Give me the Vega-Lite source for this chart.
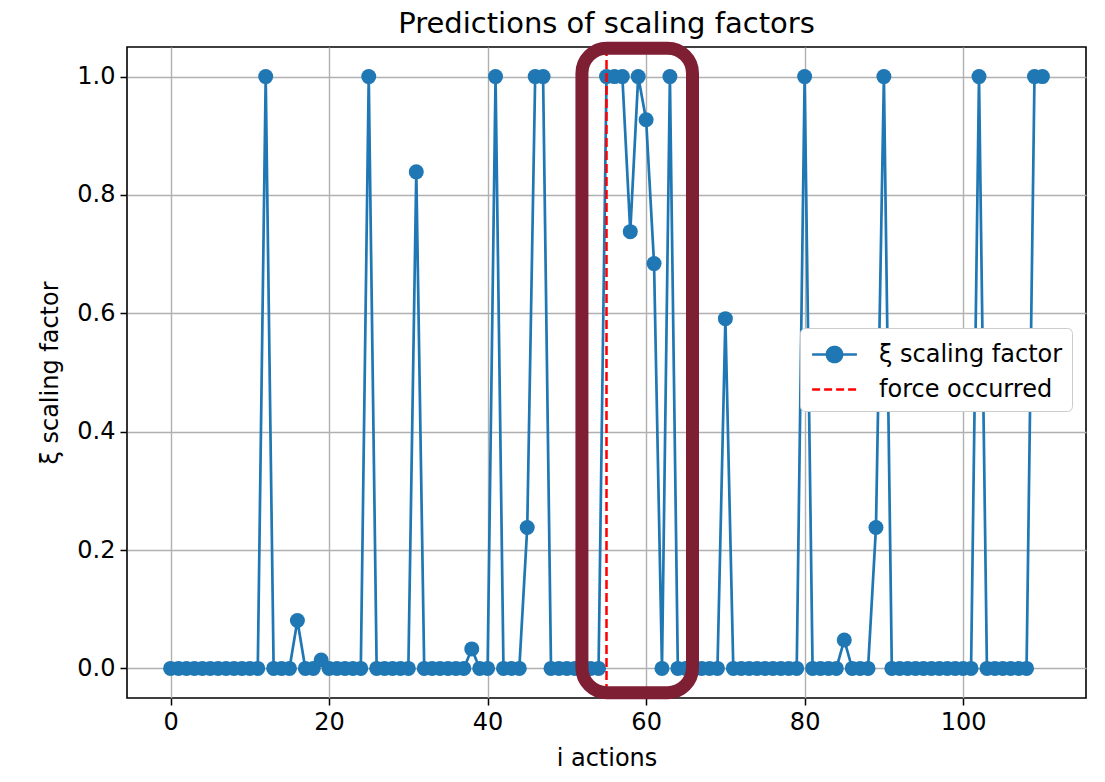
{
  "$schema": "https://vega.github.io/schema/vega-lite/v6.json",
  "width": 959,
  "height": 651,
  "autosize": "none",
  "padding": {"left": 127, "top": 47, "right": 19, "bottom": 84},
  "background": "white",
  "config": {
    "font": "DejaVu Sans",
    "view": {"stroke": "black", "strokeWidth": 1.6},
    "axis": {
      "domain": false,
      "grid": true,
      "gridColor": "#b0b0b0",
      "gridWidth": 1.4,
      "tickColor": "black",
      "tickSize": 7,
      "tickWidth": 1.5,
      "labelFont": "DejaVu Sans",
      "labelFontSize": 24,
      "labelColor": "black",
      "labelPadding": 5,
      "titleFont": "DejaVu Sans",
      "titleFontSize": 24,
      "titleFontWeight": "normal",
      "titleColor": "black"
    }
  },
  "title": {
    "text": "Predictions of scaling factors",
    "fontSize": 29,
    "font": "DejaVu Sans",
    "fontWeight": "normal",
    "color": "black",
    "offset": 3
  },
  "datasets": {
    "xi": [
      {"i": 0, "xi": 0}, {"i": 1, "xi": 0}, {"i": 2, "xi": 0}, {"i": 3, "xi": 0}, {"i": 4, "xi": 0},
      {"i": 5, "xi": 0}, {"i": 6, "xi": 0}, {"i": 7, "xi": 0}, {"i": 8, "xi": 0}, {"i": 9, "xi": 0},
      {"i": 10, "xi": 0}, {"i": 11, "xi": 0}, {"i": 12, "xi": 1.0}, {"i": 13, "xi": 0}, {"i": 14, "xi": 0},
      {"i": 15, "xi": 0}, {"i": 16, "xi": 0.081}, {"i": 17, "xi": 0}, {"i": 18, "xi": 0}, {"i": 19, "xi": 0.014},
      {"i": 20, "xi": 0}, {"i": 21, "xi": 0}, {"i": 22, "xi": 0}, {"i": 23, "xi": 0}, {"i": 24, "xi": 0},
      {"i": 25, "xi": 1.0}, {"i": 26, "xi": 0}, {"i": 27, "xi": 0}, {"i": 28, "xi": 0}, {"i": 29, "xi": 0},
      {"i": 30, "xi": 0}, {"i": 31, "xi": 0.839}, {"i": 32, "xi": 0}, {"i": 33, "xi": 0}, {"i": 34, "xi": 0},
      {"i": 35, "xi": 0}, {"i": 36, "xi": 0}, {"i": 37, "xi": 0}, {"i": 38, "xi": 0.033}, {"i": 39, "xi": 0},
      {"i": 40, "xi": 0}, {"i": 41, "xi": 1.0}, {"i": 42, "xi": 0}, {"i": 43, "xi": 0}, {"i": 44, "xi": 0},
      {"i": 45, "xi": 0.238}, {"i": 46, "xi": 1.0}, {"i": 47, "xi": 1.0}, {"i": 48, "xi": 0}, {"i": 49, "xi": 0},
      {"i": 50, "xi": 0}, {"i": 51, "xi": 0}, {"i": 52, "xi": 0}, {"i": 53, "xi": 0}, {"i": 54, "xi": 0},
      {"i": 55, "xi": 1.0}, {"i": 56, "xi": 1.0}, {"i": 57, "xi": 1.0}, {"i": 58, "xi": 0.738}, {"i": 59, "xi": 1.0},
      {"i": 60, "xi": 0.927}, {"i": 61, "xi": 0.684}, {"i": 62, "xi": 0}, {"i": 63, "xi": 1.0}, {"i": 64, "xi": 0},
      {"i": 65, "xi": 0}, {"i": 66, "xi": 0}, {"i": 67, "xi": 0}, {"i": 68, "xi": 0}, {"i": 69, "xi": 0},
      {"i": 70, "xi": 0.591}, {"i": 71, "xi": 0}, {"i": 72, "xi": 0}, {"i": 73, "xi": 0}, {"i": 74, "xi": 0},
      {"i": 75, "xi": 0}, {"i": 76, "xi": 0}, {"i": 77, "xi": 0}, {"i": 78, "xi": 0}, {"i": 79, "xi": 0},
      {"i": 80, "xi": 1.0}, {"i": 81, "xi": 0}, {"i": 82, "xi": 0}, {"i": 83, "xi": 0}, {"i": 84, "xi": 0},
      {"i": 85, "xi": 0.048}, {"i": 86, "xi": 0}, {"i": 87, "xi": 0}, {"i": 88, "xi": 0}, {"i": 89, "xi": 0.238},
      {"i": 90, "xi": 1.0}, {"i": 91, "xi": 0}, {"i": 92, "xi": 0}, {"i": 93, "xi": 0}, {"i": 94, "xi": 0},
      {"i": 95, "xi": 0}, {"i": 96, "xi": 0}, {"i": 97, "xi": 0}, {"i": 98, "xi": 0}, {"i": 99, "xi": 0},
      {"i": 100, "xi": 0}, {"i": 101, "xi": 0}, {"i": 102, "xi": 1.0}, {"i": 103, "xi": 0}, {"i": 104, "xi": 0},
      {"i": 105, "xi": 0}, {"i": 106, "xi": 0}, {"i": 107, "xi": 0}, {"i": 108, "xi": 0}, {"i": 109, "xi": 1.0},
      {"i": 110, "xi": 1.0}
    ],
    "force": [{"i": 55}],
    "box": [{"x0": 51.9, "x1": 65.85, "y0": -0.041, "y1": 1.048}]
  },
  "layer": [
    {
      "data": {"name": "xi"},
      "mark": {"type": "line", "strokeWidth": 2.7, "point": {"filled": true, "size": 225, "opacity": 1}},
      "encoding": {
        "x": {
          "field": "i", "type": "quantitative", "title": "i actions",
          "scale": {"domain": [-5.5, 115.5], "nice": false, "zero": false},
          "axis": {"values": [0, 20, 40, 60, 80, 100], "titlePadding": 12}
        },
        "y": {
          "field": "xi", "type": "quantitative", "title": "ξ scaling factor",
          "scale": {"domain": [-0.05, 1.05], "nice": false, "zero": false},
          "axis": {"values": [0, 0.2, 0.4, 0.6, 0.8, 1.0], "format": ".1f", "titlePadding": 14}
        },
        "color": {
          "datum": "ξ scaling factor", "type": "nominal",
          "scale": {"domain": ["ξ scaling factor", "force occurred"], "range": ["#1f77b4", "#ff0000"]},
          "legend": {
            "title": null,
            "orient": "none",
            "legendX": 673,
            "legendY": 281,
            "labelFontSize": 24,
            "labelFont": "DejaVu Sans",
            "labelColor": "black",
            "labelLimit": 0,
            "symbolType": "M-1.4,0L1.4,0",
            "symbolSize": 1024,
            "symbolStrokeWidth": 2.7,
            "symbolOffset": 8,
            "rowPadding": 4,
            "padding": 9,
            "labelOffset": 27,
            "strokeColor": "#cccccc",
            "fillColor": "white",
            "cornerRadius": 5,
            "encode": {
              "symbols": {
                "update": {
                  "shape": {"signal": "datum.value == 'force occurred' ? 'M-1.4,0L1.4,0' : 'M-1.4,0L1.4,0M-0.47,0A0.47,0.47,0,1,0,0.47,0A0.47,0.47,0,1,0,-0.47,0Z'"},
                  "fill": {"signal": "datum.value == 'force occurred' ? 'transparent' : '#1f77b4'"},
                  "strokeDash": {"signal": "datum.value == 'force occurred' ? [8, 4] : [1, 0]"}
                }
              }
            }
          }
        }
      }
    },
    {
      "data": {"name": "force"},
      "mark": {"type": "rule", "strokeDash": [9, 4], "strokeWidth": 2.5},
      "encoding": {
        "x": {"field": "i", "type": "quantitative", "title": "i actions"},
        "color": {"datum": "force occurred", "type": "nominal"}
      }
    },
    {
      "data": {"name": "box"},
      "mark": {"type": "rect", "filled": false, "stroke": "#7e1f33", "strokeWidth": 13, "cornerRadius": 25},
      "encoding": {
        "x": {"field": "x0", "type": "quantitative", "title": "i actions"},
        "x2": {"field": "x1"},
        "y": {"field": "y0", "type": "quantitative", "title": "ξ scaling factor"},
        "y2": {"field": "y1"}
      }
    }
  ]
}
